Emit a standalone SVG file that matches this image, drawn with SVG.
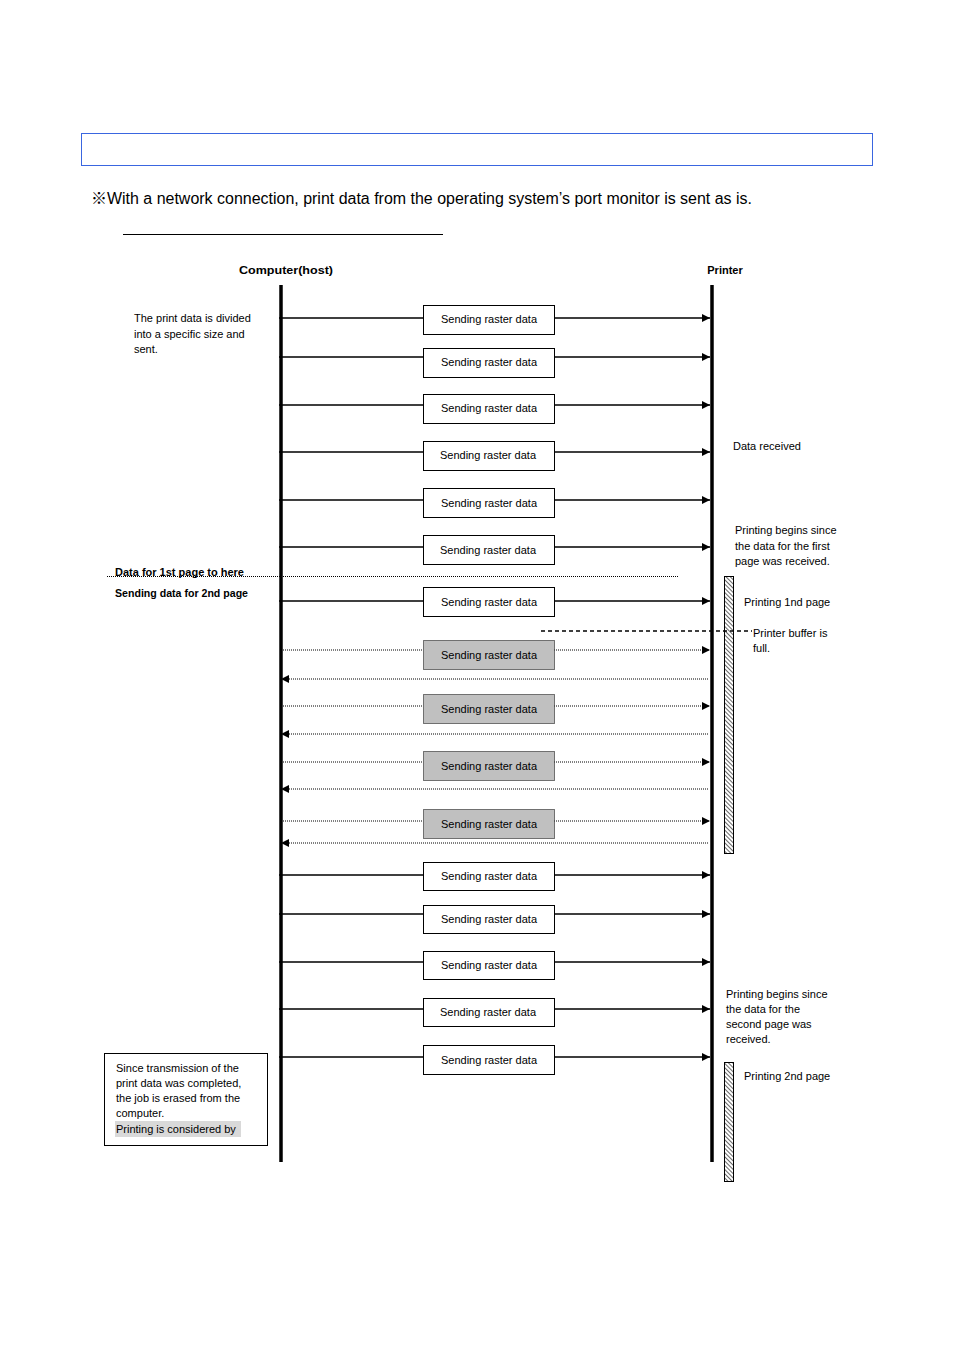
<svg xmlns="http://www.w3.org/2000/svg" width="954" height="1350" viewBox="0 0 954 1350">
<style>
text{font-family:"Liberation Sans","Noto Sans CJK JP",sans-serif;fill:#000}
.s{font-size:11px}
.b{font-size:11px;font-weight:bold}
.bx{fill:#fff;stroke:#000;stroke-width:1}
.gx{fill:#c0c0c0;stroke:#000;stroke-width:1;stroke-dasharray:1 1}
.ln{stroke:#000;stroke-width:1.3;fill:none}
.dl{stroke:#000;stroke-width:1;stroke-dasharray:1 1;fill:none}
.life{stroke:#000;stroke-width:3.5}
.hat{fill:url(#hatch);stroke:#000;stroke-width:1}
</style>
<defs>
<marker id="ar" markerWidth="8" markerHeight="8" refX="8" refY="4" orient="auto" markerUnits="userSpaceOnUse"><path d="M0,0 L8,4 L0,8 Z" fill="#000"/></marker>
<pattern id="hatch" width="3" height="3" patternUnits="userSpaceOnUse" patternTransform="rotate(-45)"><rect width="3" height="3" fill="#fff"/><line x1="0" y1="0" x2="0" y2="3" stroke="#000" stroke-width="1.2"/></pattern>
</defs>
<rect width="954" height="1350" fill="#fff"/>
<g id="header">
<rect x="81.5" y="133.5" width="791" height="32" fill="none" stroke="#3a66e0" stroke-width="1"/>
<text x="91" y="204" font-size="16" textLength="661" lengthAdjust="spacingAndGlyphs">※With a network connection, print data from the operating system’s port monitor is sent as is.</text>
<line x1="123" y1="234.5" x2="443" y2="234.5" stroke="#000" stroke-width="1"/>
</g>
<g id="lifelines">
<text class="b" x="286" y="274" text-anchor="middle" font-size="13" textLength="94" lengthAdjust="spacingAndGlyphs">Computer(host)</text>
<text class="b" x="725" y="274" text-anchor="middle" font-size="13">Printer</text>
<line class="life" x1="281" y1="285" x2="281" y2="1162"/>
<line class="life" x1="712" y1="285" x2="712" y2="1162"/>
</g>
<g id="bar1"><rect class="hat" x="724.5" y="576.5" width="9" height="277"/></g>
<g id="bar2"><rect class="hat" x="724.5" y="1062.5" width="9" height="119"/></g>
<g id="connectors">
<path class="ln" d="M279,318 H423 M554,318 H710" marker-end="url(#ar)"/>
<path class="ln" d="M279,357 H423 M554,357 H710" marker-end="url(#ar)"/>
<path class="ln" d="M279,405 H423 M554,405 H710" marker-end="url(#ar)"/>
<path class="ln" d="M279,452 H423 M554,452 H710" marker-end="url(#ar)"/>
<path class="ln" d="M279,500 H423 M554,500 H710" marker-end="url(#ar)"/>
<path class="ln" d="M279,547 H423 M554,547 H710" marker-end="url(#ar)"/>
<path class="ln" d="M279,601 H423 M554,601 H710" marker-end="url(#ar)"/>
<path class="dl" d="M283,650 H423 M554,650 H710" marker-end="url(#ar)"/>
<path class="dl" d="M708,679 H281" marker-end="url(#ar)"/>
<path class="dl" d="M283,706 H423 M554,706 H710" marker-end="url(#ar)"/>
<path class="dl" d="M708,734 H281" marker-end="url(#ar)"/>
<path class="dl" d="M283,762 H423 M554,762 H710" marker-end="url(#ar)"/>
<path class="dl" d="M708,789 H281" marker-end="url(#ar)"/>
<path class="dl" d="M283,821 H423 M554,821 H710" marker-end="url(#ar)"/>
<path class="dl" d="M708,843 H281" marker-end="url(#ar)"/>
<path class="ln" d="M279,875 H423 M554,875 H710" marker-end="url(#ar)"/>
<path class="ln" d="M279,914 H423 M554,914 H710" marker-end="url(#ar)"/>
<path class="ln" d="M279,962 H423 M554,962 H710" marker-end="url(#ar)"/>
<path class="ln" d="M279,1009 H423 M554,1009 H710" marker-end="url(#ar)"/>
<path class="ln" d="M279,1057 H423 M554,1057 H710" marker-end="url(#ar)"/>
<line class="dl" x1="107" y1="576.5" x2="678" y2="576.5"/>
<line x1="541" y1="631" x2="752" y2="631" stroke="#000" stroke-width="1.5" stroke-dasharray="4 3"/>
</g>
<g id="msg1"><rect class="bx" x="423.5" y="305.5" width="131" height="29"/><text class="s" x="489" y="323" text-anchor="middle">Sending raster data</text></g>
<g id="msg2"><rect class="bx" x="423.5" y="348.5" width="131" height="29"/><text class="s" x="489" y="366" text-anchor="middle">Sending raster data</text></g>
<g id="msg3"><rect class="bx" x="423.5" y="394.5" width="131" height="29"/><text class="s" x="489" y="412" text-anchor="middle">Sending raster data</text></g>
<g id="msg4"><rect class="bx" x="423.5" y="441.5" width="131" height="29"/><text class="s" x="488" y="459" text-anchor="middle">Sending raster data</text></g>
<g id="msg5"><rect class="bx" x="423.5" y="488.5" width="131" height="29"/><text class="s" x="489" y="507" text-anchor="middle">Sending raster data</text></g>
<g id="msg6"><rect class="bx" x="423.5" y="535.5" width="131" height="29"/><text class="s" x="488" y="554" text-anchor="middle">Sending raster data</text></g>
<g id="msg7"><rect class="bx" x="423.5" y="587.5" width="131" height="29"/><text class="s" x="489" y="606" text-anchor="middle">Sending raster data</text></g>
<g id="msg8"><rect class="gx" x="423.5" y="640.5" width="131" height="29"/><text class="s" x="489" y="659" text-anchor="middle">Sending raster data</text></g>
<g id="msg9"><rect class="gx" x="423.5" y="694.5" width="131" height="29"/><text class="s" x="489" y="713" text-anchor="middle">Sending raster data</text></g>
<g id="msg10"><rect class="gx" x="423.5" y="751.5" width="131" height="29"/><text class="s" x="489" y="770" text-anchor="middle">Sending raster data</text></g>
<g id="msg11"><rect class="gx" x="423.5" y="809.5" width="131" height="29"/><text class="s" x="489" y="828" text-anchor="middle">Sending raster data</text></g>
<g id="msg12"><rect class="bx" x="423.5" y="862.5" width="131" height="28"/><text class="s" x="489" y="880" text-anchor="middle">Sending raster data</text></g>
<g id="msg13"><rect class="bx" x="423.5" y="905.5" width="131" height="28"/><text class="s" x="489" y="923" text-anchor="middle">Sending raster data</text></g>
<g id="msg14"><rect class="bx" x="423.5" y="951.5" width="131" height="28"/><text class="s" x="489" y="969" text-anchor="middle">Sending raster data</text></g>
<g id="msg15"><rect class="bx" x="423.5" y="998.5" width="131" height="28"/><text class="s" x="488" y="1016" text-anchor="middle">Sending raster data</text></g>
<g id="msg16"><rect class="bx" x="423.5" y="1045.5" width="131" height="29"/><text class="s" x="489" y="1064" text-anchor="middle">Sending raster data</text></g>
<g id="note-divided">
<text class="s" x="134" y="322">The print data is divided</text>
<text class="s" x="134" y="338">into a specific size and</text>
<text class="s" x="134" y="353">sent.</text>
</g>
<g id="note-page1">
<text class="b" x="115" y="576">Data for 1st page to here</text>
<text class="b" x="115" y="597" textLength="133" lengthAdjust="spacingAndGlyphs">Sending data for 2nd page</text>
</g>
<g id="note-received"><text class="s" x="733" y="450">Data received</text></g>
<g id="note-begin1">
<text class="s" x="735" y="534">Printing begins since</text>
<text class="s" x="735" y="550">the data for the first</text>
<text class="s" x="735" y="565">page was received.</text>
</g>
<g id="note-print1"><text class="s" x="744" y="606">Printing 1nd page</text></g>
<g id="note-full">
<text class="s" x="753" y="637">Printer buffer is</text>
<text class="s" x="753" y="652">full.</text>
</g>
<g id="note-begin2">
<text class="s" x="726" y="998">Printing begins since</text>
<text class="s" x="726" y="1013">the data for the</text>
<text class="s" x="726" y="1028">second page was</text>
<text class="s" x="726" y="1043">received.</text>
</g>
<g id="note-print2"><text class="s" x="744" y="1080">Printing 2nd page</text></g>
<g id="note-erased">
<rect x="104.5" y="1053.5" width="163" height="92" fill="#fff" stroke="#000" stroke-width="1"/>
<rect x="115" y="1121" width="126" height="16" fill="#d9d9d9"/>
<text class="s" x="116" y="1072">Since transmission of the</text>
<text class="s" x="116" y="1087">print data was completed,</text>
<text class="s" x="116" y="1102">the job is erased from the</text>
<text class="s" x="116" y="1117">computer.</text>
<text class="s" x="116" y="1133">Printing is considered by</text>
</g>
</svg>
